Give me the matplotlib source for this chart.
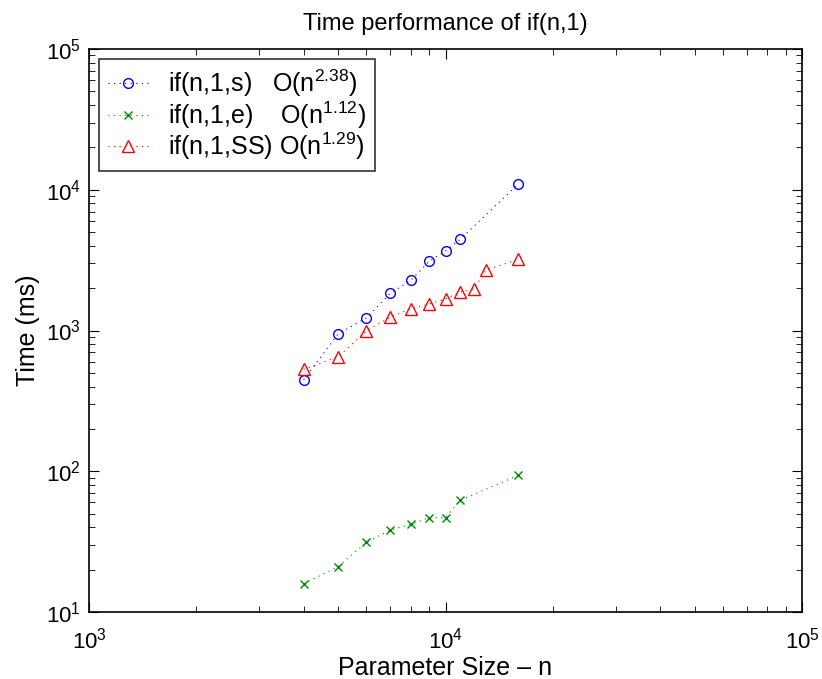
import numpy as np
import matplotlib
matplotlib.use('Agg')
import matplotlib.pyplot as plt

plt.rcParams['font.family'] = ['Liberation Sans', 'DejaVu Sans']
plt.rcParams['mathtext.fontset'] = 'custom'
plt.rcParams['mathtext.rm'] = 'Liberation Sans'
plt.rcParams['mathtext.it'] = 'Liberation Sans'

# data
n_s = [4000, 5000, 6000, 7000, 8000, 9000, 10000, 11000, 16000]
t_s = [445, 949, 1227, 1838, 2274, 3102, 3672, 4446, 10990]

n_e = [4000, 5000, 6000, 7000, 8000, 9000, 10000, 11000, 16000]
t_e = [15.9, 21.0, 31.3, 38.2, 42.0, 46.8, 46.8, 62.1, 93.6]

n_ss = [4000, 5000, 6000, 7000, 8000, 9000, 10000, 11000, 12000, 13000, 16000]
t_ss = [530, 651, 997, 1241, 1429, 1543, 1675, 1878, 1963, 2692, 3206]

labels = [r'if(n,1,s)   O(n$^{2.38}$)',
          r'if(n,1,e)    O(n$^{1.12}$)',
          r'if(n,1,SS) O(n$^{1.29}$)']

fig = plt.figure(figsize=(8.22, 6.79), dpi=100)
ax = fig.add_axes([89/822, 1 - 612/679, (802-89)/822, (612-49)/679])

dots = (0, (1, 4))
ax.loglog(n_s, t_s, color='blue', ls=dots, marker='o', mfc='none', ms=7, mew=1, lw=0.8, label=labels[0])
ax.loglog(n_e, t_e, color=(0, 0.55, 0), ls=dots, marker='x', ms=6, mew=1, lw=0.8, label=labels[1])
ax.loglog(n_ss, t_ss, color='red', ls=dots, marker='^', mfc='none', ms=8, mew=1, lw=0.8, label=labels[2])

ax.set_xlim(1e3, 1e5)
ax.set_ylim(1e1, 1e5)
ax.tick_params(which='both', direction='in', top=True, right=True, labelsize=16)
ax.tick_params(axis='x', pad=11)
ax.tick_params(axis='y', pad=6)
ax.tick_params(which='major', length=7)
ax.tick_params(which='minor', length=4)
for s in ax.spines.values():
    s.set_linewidth(1.2)

ax.set_title('Time performance of if(n,1)', fontsize=17, pad=14)
ax.set_xlabel('Parameter Size \u2013 n', fontsize=18, labelpad=2)
ax.set_ylabel('Time (ms)', fontsize=18, labelpad=4)

leg = ax.legend(loc='upper left', fontsize=18, frameon=True, fancybox=False,
                edgecolor='black', handlelength=1.6, handletextpad=0.8,
                borderaxespad=0.4, labelspacing=0.0, borderpad=0.35)
leg.get_frame().set_linewidth(1.2)

fig.savefig('out.png', dpi=100)
